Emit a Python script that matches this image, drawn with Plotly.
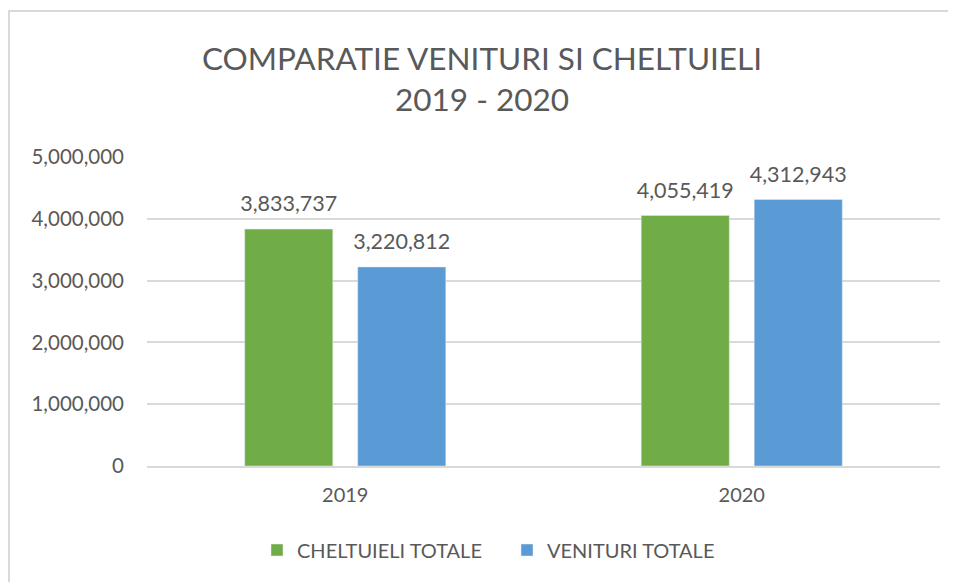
import plotly.graph_objects as go

years = ["2019", "2020"]
cheltuieli = [3833737, 4055419]
venituri = [3220812, 4312943]
series_names = ["CHELTUIELI TOTALE", "VENITURI TOTALE"]
y_ticks = [0, 1000000, 2000000, 3000000, 4000000, 5000000]

FONT = "Lato, 'Open Sans', sans-serif"
GRAY = "#595959"
GREEN = "#70AD47"
BLUE = "#5B9BD5"

# figure is placed at (8, 8) in the page by the body margin
W, H = 948, 574
L, R, T, B = 139, 16, 149, 116
pw = W - L - R
ph = H - T - B

def px_x(p):
    return (p - L) / pw

def px_y(p):
    return (H - B - p) / ph

BARGAP = 0.43

fig = go.Figure()
for name, vals, col in [(series_names[0], cheltuieli, GREEN), (series_names[1], venituri, BLUE)]:
    fig.add_trace(go.Bar(
        x=years, y=vals, name=name, marker_color=col, offsetgroup=name,
        hoverinfo="skip",
    ))
for name, vals in [(series_names[0], cheltuieli), (series_names[1], venituri)]:
    fig.add_trace(go.Scatter(
        x=years, y=vals, mode="markers+text", offsetgroup=name,
        text=[f"{v:,}" for v in vals], textposition="top center",
        marker=dict(size=18, color="rgba(0,0,0,0)"),
        textfont=dict(size=21.5, color=GRAY, family=FONT),
        showlegend=False, cliponaxis=False, hoverinfo="skip",
    ))

fig.update_layout(
    width=W, height=H,
    margin=dict(l=L, r=R, t=T, b=B),
    paper_bgcolor="white", plot_bgcolor="white",
    barmode="group", bargap=BARGAP, bargroupgap=0.22,
    scattermode="group", scattergap=BARGAP,
    font=dict(family=FONT, color=GRAY, size=20),
    title=dict(
        text="COMPARATIE VENITURI SI CHELTUIELI<br>2019 - 2020",
        x=0.5, xanchor="center", y=1 - 62 / H, yanchor="middle",
        font=dict(size=31.5, color=GRAY, family=FONT),
    ),
    legend=dict(
        orientation="h", x=px_x(249), xanchor="left", y=px_y(542), yanchor="middle",
        font=dict(size=20, color=GRAY, family=FONT),
        traceorder="normal", entrywidth=205, entrywidthmode="pixels",
    ),
    xaxis=dict(
        showline=True, linecolor="#d9d9d9", linewidth=2,
        tickfont=dict(size=20, color=GRAY, family=FONT),
        ticks="", showgrid=False, ticklabelstandoff=10,
    ),
    yaxis=dict(
        range=[0, 5000000], tickvals=y_ticks, tickformat=",d",
        showgrid=True, gridcolor="#d9d9d9", gridwidth=1.5, zeroline=False,
        tickfont=dict(size=20.5, color=GRAY, family=FONT), ticks="",
        ticklabelstandoff=22,
    ),
    shapes=[dict(
        type="rect", xref="paper", yref="paper",
        x0=px_x(1), x1=px_x(1000), y0=px_y(1000), y1=px_y(3),
        line=dict(color="#d9d9d9", width=2), layer="below",
    )],
)

fig.write_html("out.html")
